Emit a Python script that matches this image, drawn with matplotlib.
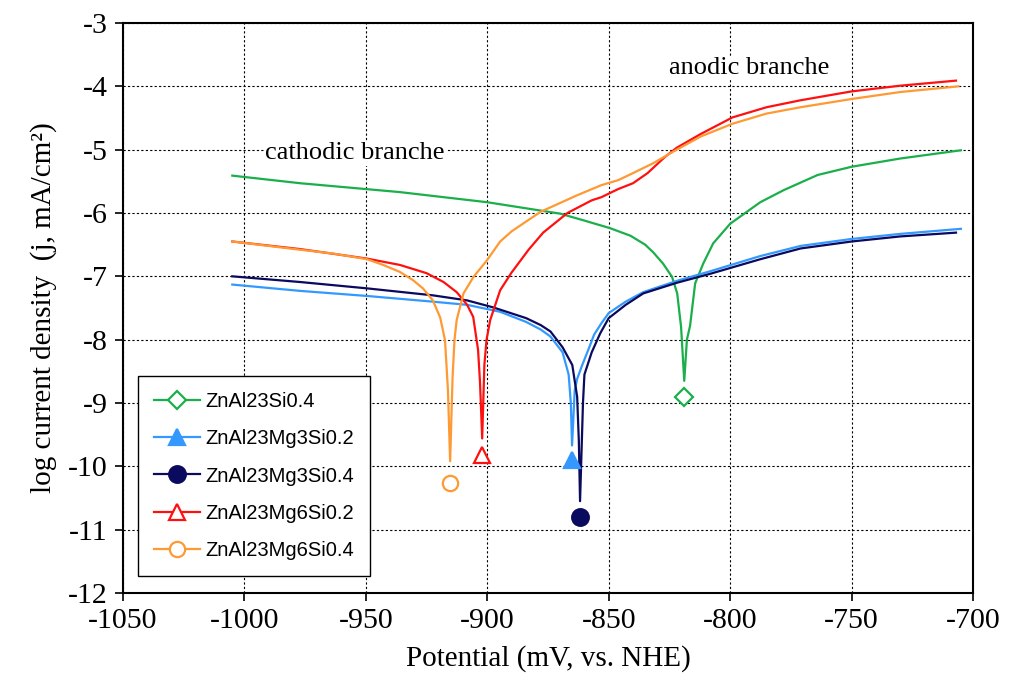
import matplotlib
matplotlib.use("Agg")
import matplotlib.pyplot as plt
from matplotlib.legend_handler import HandlerTuple

plt.rcParams["axes.unicode_minus"] = False

# ---- data ----
labels = ["ZnAl23Si0.4", "ZnAl23Mg3Si0.2", "ZnAl23Mg3Si0.4", "ZnAl23Mg6Si0.2", "ZnAl23Mg6Si0.4"]

E_g = [-1005, -977, -936, -900, -870, -860, -849.4, -841, -835, -831.7, -827.6, -823.9, -821.8, -820.2,
       -818.9, -817.8, -816.5, -814.4, -811.1, -807, -800, -787.6, -778, -764, -750, -730, -705]
j_g = [-5.41, -5.53, -5.67, -5.83, -6.01, -6.12, -6.24, -6.36, -6.50, -6.62, -6.80, -7.01, -7.27, -7.80,
       -8.65, -8.00, -7.78, -7.11, -6.80, -6.48, -6.17, -5.83, -5.64, -5.40, -5.27, -5.14, -5.01]

E_lb = [-1005, -977, -949.5, -922.4, -908.3, -894.7, -884, -878, -874, -869, -866.5, -865.6, -865.1, -864,
        -863, -861, -858, -856, -853, -850, -843, -835.8, -821.8, -808.2, -787.6, -771, -750, -730, -705]
j_lb = [-7.13, -7.23, -7.31, -7.40, -7.45, -7.56, -7.72, -7.84, -7.95, -8.20, -8.55, -9.00, -9.67, -8.80,
        -8.62, -8.41, -8.12, -7.92, -7.74, -7.58, -7.40, -7.25, -7.07, -6.92, -6.68, -6.52, -6.41, -6.33, -6.25]

E_nv = [-1005, -977, -949.5, -922.4, -908.3, -897.6, -884, -878, -874, -869, -865, -863, -862.3, -861.8,
        -860.6, -860, -857, -853.5, -850, -843, -835.8, -821.8, -808.2, -787.6, -771, -750, -730, -707]
j_nv = [-7.00, -7.09, -7.19, -7.30, -7.38, -7.49, -7.66, -7.77, -7.87, -8.12, -8.40, -8.90, -9.60, -10.55,
        -9.00, -8.55, -8.20, -7.90, -7.66, -7.45, -7.27, -7.10, -6.96, -6.73, -6.56, -6.45, -6.37, -6.31]

E_r = [-1005, -977, -949.5, -936, -925, -918, -912.6, -908.3, -905.8, -903.8, -903, -902.1, -901.2,
       -900.3, -898.8, -894.7, -890, -883, -877, -867, -857, -853, -846, -840, -834, -827, -822,
       -812, -799, -785, -771, -750, -730, -707]
j_r = [-6.45, -6.57, -6.72, -6.82, -6.95, -7.09, -7.25, -7.45, -7.64, -8.16, -8.67, -9.56, -8.40,
       -8.00, -7.69, -7.22, -6.94, -6.58, -6.31, -6.00, -5.80, -5.75, -5.62, -5.53, -5.37, -5.12, -4.97,
       -4.75, -4.49, -4.33, -4.22, -4.08, -3.99, -3.91]

E_o = [-1005, -977.1, -963.5, -949.5, -942.9, -936, -930.6, -926.5, -922.4, -919.4, -917.4, -916.2,
       -915.3, -914.3, -913.5, -912.6, -909.8, -905.7, -900.2, -894.7, -890, -878, -863, -853, -846,
       -840, -832, -822, -812, -799, -785, -771, -750, -730, -706]
j_o = [-6.45, -6.58, -6.64, -6.73, -6.82, -6.93, -7.06, -7.19, -7.38, -7.65, -8.01, -8.80,
       -9.92, -8.60, -8.00, -7.69, -7.27, -7.01, -6.75, -6.45, -6.29, -5.98, -5.72, -5.56, -5.48,
       -5.37, -5.22, -5.00, -4.79, -4.59, -4.43, -4.33, -4.20, -4.09, -4.00]

# corrosion-point markers (Ecorr, log j)
ecorr = [-818.9, -865.1, -861.8, -902.1, -915.3]
jcorr = [-8.91, -9.90, -10.80, -9.82, -10.26]

xticks = [-1050, -1000, -950, -900, -850, -800, -750, -700]
yticks = [-12, -11, -10, -9, -8, -7, -6, -5, -4, -3]

# ---- style ----
colors = ["#1aaf4b", "#3399ff", "#0a0a5e", "#ff1010", "#ff9933"]
markers = ["D", "^", "o", "^", "o"]
filled = [False, True, True, False, False]
msizes = [9, 12, 12, 12, 11]

serif = ["Liberation Serif", "DejaVu Serif"]
sans = ["Liberation Sans", "DejaVu Sans"]

fig = plt.figure(figsize=(10.1, 6.8), dpi=100)
ax = fig.add_axes([123 / 1010, 1 - 593 / 680, 850 / 1010, 570 / 680])

series = [(E_g, j_g), (E_lb, j_lb), (E_nv, j_nv), (E_r, j_r), (E_o, j_o)]
handles = []
for i, (E, j) in enumerate(series):
    ln, = ax.plot(E, j, color=colors[i], lw=1.6, zorder=3)
    fc = colors[i] if filled[i] else "white"
    mk, = ax.plot([ecorr[i]], [jcorr[i]], linestyle="none", marker=markers[i], ms=msizes[i],
                  mfc=fc, mec=colors[i], mew=1.6, zorder=4)
    handles.append((ln, mk))

ax.set_xlim(-1050, -700)
ax.set_ylim(-12, -3)
ax.set_xticks(xticks)
ax.set_yticks(yticks)
ax.grid(True, color="black", linestyle=(0, (2, 2)), linewidth=0.8)
ax.set_axisbelow(True)
for s in ax.spines.values():
    s.set_linewidth(1.5)
    s.set_color("black")
ax.tick_params(direction="out", length=6, width=1.2, labelsize=21.5, pad=5)
for lab in ax.get_xticklabels() + ax.get_yticklabels():
    lab.set_family(serif)

ax.set_xlabel("Potential (mV, vs. NHE)", family=serif, fontsize=21, labelpad=8)
ax.set_ylabel("log current density  (j, mA/cm²)", family=serif, fontsize=21, labelpad=8)

ax.text(-991.5, -5.06, "cathodic branche", family=serif, fontsize=19, va="center", ha="left",
        bbox=dict(facecolor="white", edgecolor="none", pad=1), zorder=2)
ax.text(-792, -3.71, "anodic branche", family=serif, fontsize=19, va="center", ha="center",
        bbox=dict(facecolor="white", edgecolor="none", pad=1), zorder=2)

leg = ax.legend(handles, labels, handler_map={tuple: HandlerTuple(ndivide=1)},
                loc="lower left", bbox_to_anchor=(0.0176, 0.03), borderaxespad=0,
                prop={"family": sans, "size": 14.5}, fancybox=False, framealpha=1,
                edgecolor="black", handlelength=2.3, labelspacing=0.9, borderpad=0.8,
                handletextpad=0.25)
leg.get_frame().set_linewidth(1.0)
leg.set_zorder(5)

fig.savefig("out.png", dpi=100)
